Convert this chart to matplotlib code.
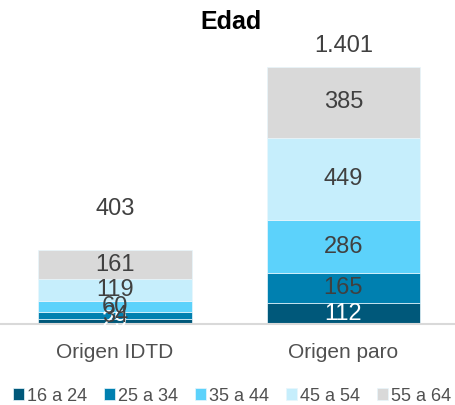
import matplotlib.pyplot as plt
import numpy as np

plt.rcParams['font.family'] = ['Liberation Sans', 'DejaVu Sans']

categories = ["Origen IDTD", "Origen paro"]
series = ["16 a 24", "25 a 34", "35 a 44", "45 a 54", "55 a 64"]
values = [
    [29, 112],   # 16 a 24
    [34, 165],   # 25 a 34
    [60, 286],   # 35 a 44
    [119, 449],  # 45 a 54
    [161, 385],  # 55 a 64
]
totals = [403, 1401]
total_labels = ["403", "1.401"]

colors = ["#00587a", "#0080b0", "#5cd2fb", "#c6eefc", "#d9d9d9"]
label_colors = ["white", "#404040", "#404040", "#404040", "#404040"]
text_grey = "#404040"

fig = plt.figure(figsize=(4.55, 4.05), dpi=100)
ax = fig.add_axes([0.0, 0.2, 1.0, 0.701])

x = np.arange(len(categories))
bottom = np.zeros(len(categories))
for name, vals, col, lc in zip(series, values, colors, label_colors):
    vals = np.array(vals)
    ax.bar(x, vals, 0.67, bottom=bottom, color=col, label=name,
           edgecolor="#e8f6fc", linewidth=0.5)
    for xi, b, v in zip(x, bottom, vals):
        ax.text(xi, b + v / 2, str(v), ha='center', va='center',
                fontsize=17, color=lc)
    bottom = bottom + vals

# totals above the stacks
offsets = [41, 21]
for xi, t, lab, off in zip(x, totals, total_labels, offsets):
    ax.annotate(lab, xy=(xi, bottom[xi]), xytext=(0, off * 0.72),
                textcoords='offset points', ha='center', va='center',
                fontsize=17, color=text_grey)

ax.set_xlim(-0.503, 1.488)
ax.set_ylim(0, 1542)
for s in ["top", "right", "left"]:
    ax.spines[s].set_visible(False)
ax.spines["bottom"].set_color("#d9d9d9")
ax.spines["bottom"].set_linewidth(1.5)
ax.set_yticks([])
ax.set_xticks(x)
ax.set_xticklabels(categories, fontsize=15, color="#505050")
ax.tick_params(axis='x', length=0, pad=14)

fig.text(0.508, 0.945, "Edad", ha='center', va='center', fontsize=18,
         fontweight='bold', color='black')

fig.legend(loc='center', bbox_to_anchor=(0.51, 0.022), ncol=5, frameon=False,
           fontsize=13, handlelength=0.6, handleheight=0.6, handletextpad=0.15,
           columnspacing=0.97, labelcolor="#505050")

fig.savefig("out.png", dpi=100)
